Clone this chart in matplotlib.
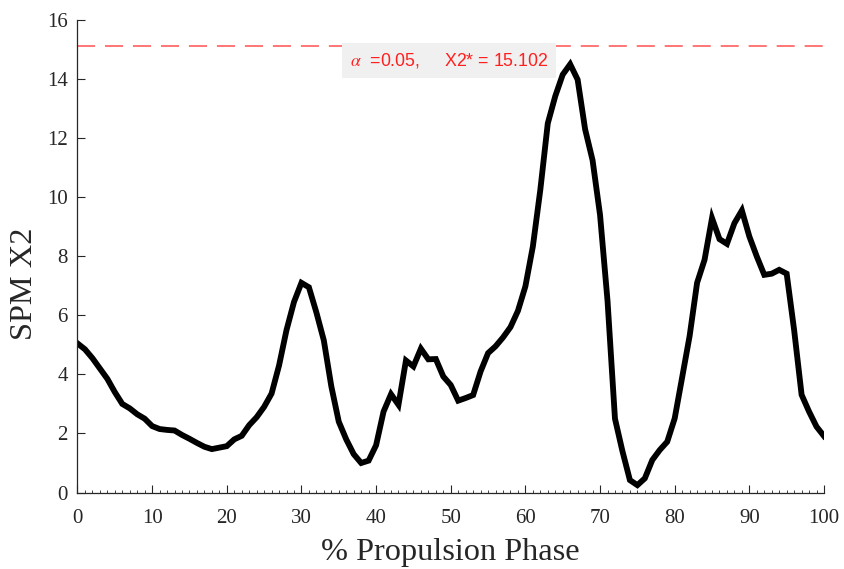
import numpy as np
import matplotlib.pyplot as plt

# SPM X2 curve, one value per % of the propulsion phase (0..100)
phase = np.arange(0, 101)
spm_x2 = [5.05, 4.85, 4.55, 4.2, 3.85, 3.4, 3.0, 2.85, 2.65, 2.5,
          2.25, 2.15, 2.12, 2.1, 1.95, 1.82, 1.68, 1.55, 1.47, 1.52,
          1.57, 1.8, 1.92, 2.28, 2.55, 2.9, 3.35, 4.3, 5.5, 6.45,
          7.1, 6.95, 6.1, 5.15, 3.6, 2.4, 1.8, 1.3, 1.0, 1.08,
          1.6, 2.74, 3.33, 2.97, 4.47, 4.27, 4.87, 4.51, 4.52, 3.93,
          3.64, 3.11, 3.2, 3.3, 4.1, 4.72, 4.95, 5.25, 5.6, 6.15,
          6.98, 8.33, 10.25, 12.5, 13.42, 14.15, 14.5, 13.98, 12.3, 11.25,
          9.4, 6.5, 2.5, 1.4, 0.42, 0.25, 0.48, 1.1, 1.44, 1.72,
          2.51, 3.9, 5.3, 7.1, 7.88, 9.29, 8.58, 8.42, 9.12, 9.55,
          8.67, 7.99, 7.37, 7.41, 7.54, 7.41, 5.5, 3.31, 2.74, 2.23,
          1.91]

alpha = 0.05
x2_crit = 15.102

xticks = [0, 10, 20, 30, 40, 50, 60, 70, 80, 90, 100]
yticks = [0, 2, 4, 6, 8, 10, 12, 14, 16]

plt.rcParams['mathtext.fontset'] = 'stix'
serif = 'Liberation Serif'
grey = '#262626'

fig = plt.figure(figsize=(8.44, 5.69), dpi=100)
ax = fig.add_axes([0.0918, 0.1344, 0.8845, 0.8305])

# critical threshold
ax.axhline(x2_crit, color='#ff6b6b', lw=1.3, dashes=(10, 5.5))
label = r'$\alpha$  =%.2f,     X2* = %.3f' % (alpha, x2_crit)
ax.text(49.8, 14.64, label, color='#ff2020',
        fontsize=12.8, family='Liberation Sans', ha='center', va='center',
        bbox=dict(boxstyle='square,pad=0.45', fc='#f0f0f0', ec='none'))

# test statistic
ax.plot(phase, spm_x2, color='black', lw=4.2, solid_joinstyle='miter')

ax.set_xlim(0, 100)
ax.set_ylim(0, 16)
ax.set_xticks(xticks)
ax.set_yticks(yticks)
ax.set_xticks(np.arange(0, 101, 1), minor=True)

for s in ['top', 'right']:
    ax.spines[s].set_visible(False)
for s in ['left', 'bottom']:
    ax.spines[s].set_color(grey)
    ax.spines[s].set_linewidth(0.9)

ax.tick_params(which='major', direction='in', length=6, width=0.8, color=grey,
               labelcolor=grey, labelsize=15)
ax.tick_params(which='minor', direction='in', length=2.5, width=0.6, color=grey)
ax.tick_params(axis='x', which='major', pad=12)
ax.tick_params(axis='y', which='major', pad=7)
for lab in ax.get_xticklabels() + ax.get_yticklabels():
    lab.set_family(serif)

ax.set_xlabel('% Propulsion Phase', family=serif, fontsize=23.3, color=grey, labelpad=7)
ax.set_ylabel('SPM X2', family=serif, fontsize=23.3, color=grey)
ax.yaxis.set_label_coords(-0.051, 0.441)

fig.savefig('out.png', dpi=100)
